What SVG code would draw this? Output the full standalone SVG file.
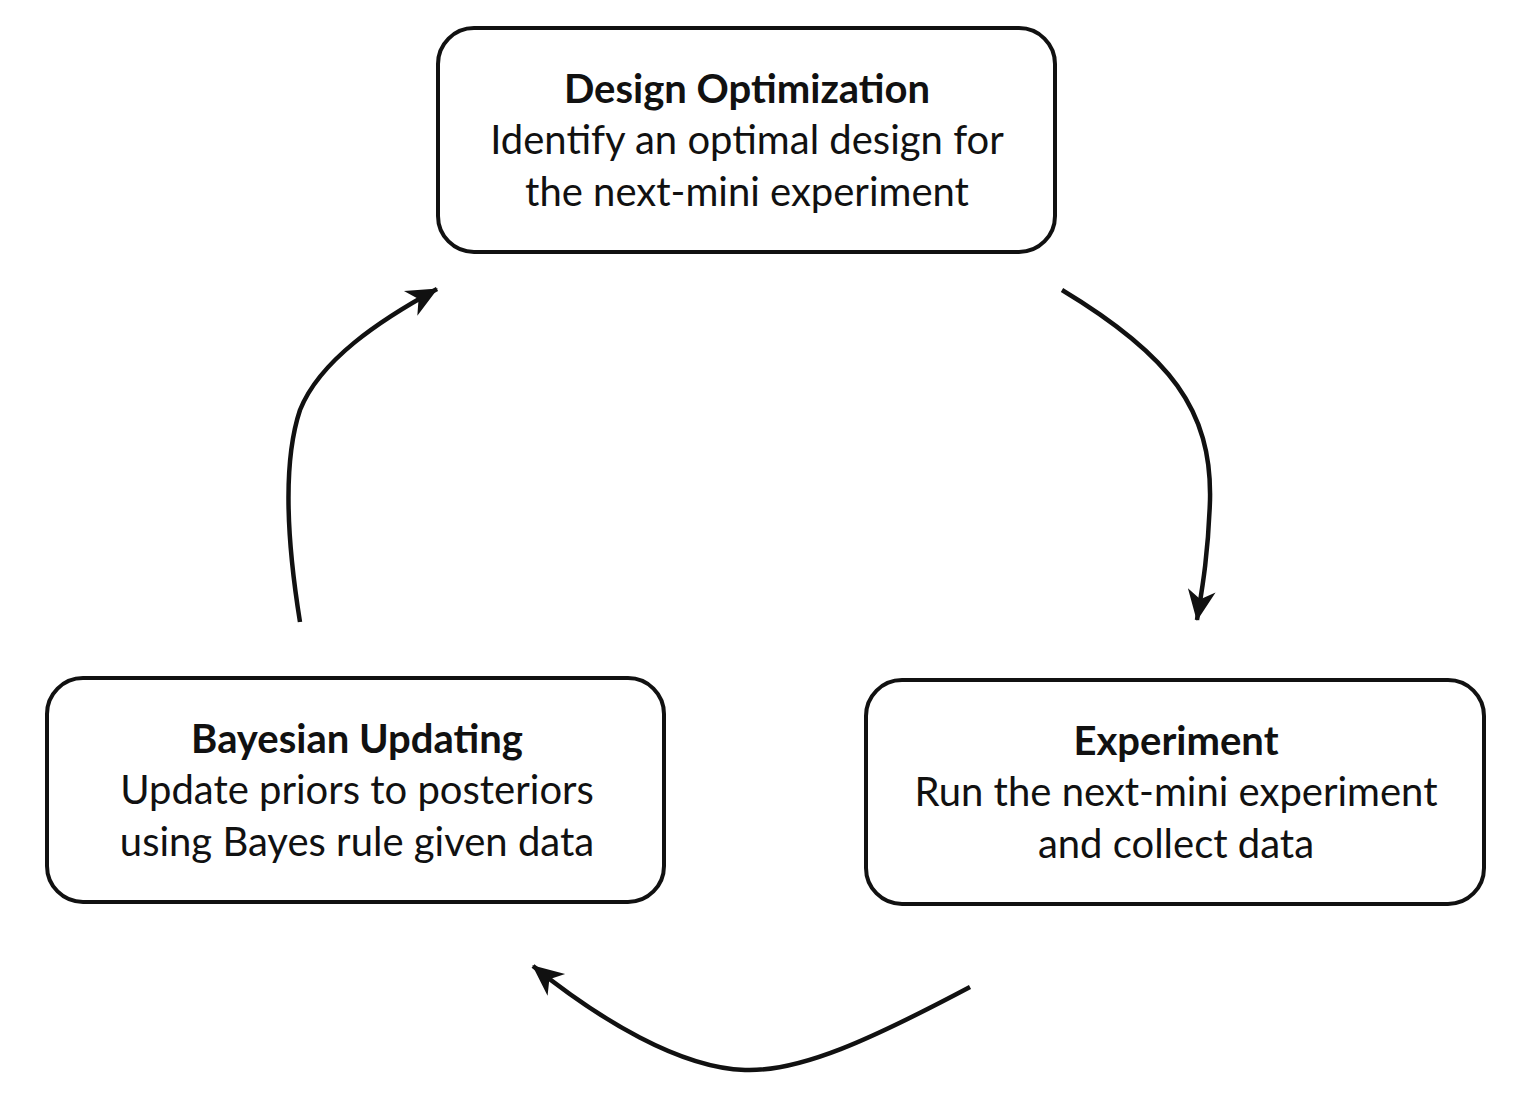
<svg xmlns="http://www.w3.org/2000/svg" width="1526" height="1096" viewBox="0 0 1526 1096">
<style>
.box{fill:#fff;stroke:#111;stroke-width:4}
.t{font-family:"Lato","Open Sans","Liberation Sans",sans-serif;font-size:40px;fill:#111;text-anchor:middle}
.b{font-weight:bold}
.c{fill:none;stroke:#111;stroke-width:4.5}
</style>
<defs>
<marker id="ah" viewBox="-32 -16 34 32" refX="0" refY="0" markerWidth="34" markerHeight="32" orient="auto" markerUnits="userSpaceOnUse">
<path d="M1,0 L-30,-14 L-21,0 L-30,14 Z" fill="#111"/>
</marker>
</defs>
<rect width="1526" height="1096" fill="#fff"/>
<g id="design">
<rect class="box" x="438" y="28" width="617" height="224" rx="36"/>
<text class="t b" x="747" y="103">Design Optimization</text>
<text class="t" x="747" y="154">Identify an optimal design for</text>
<text class="t" x="747" y="206">the next-mini experiment</text>
</g>
<g id="bayes">
<rect class="box" x="47" y="678" width="617" height="224" rx="36"/>
<text class="t b" x="357" y="753">Bayesian Updating</text>
<text class="t" x="357" y="804">Update priors to posteriors</text>
<text class="t" x="357" y="856">using Bayes rule given data</text>
</g>
<g id="experiment">
<rect class="box" x="866" y="680" width="618" height="224" rx="36"/>
<text class="t b" x="1176" y="755">Experiment</text>
<text class="t" x="1176" y="806">Run the next-mini experiment</text>
<text class="t" x="1176" y="858">and collect data</text>
</g>
<g id="connectors">
<path class="c" d="M1062,290 C1170,355 1212,410 1210,500 C1208,560 1201,595 1197,620" marker-end="url(#ah)"/>
<path class="c" d="M970,987 C870,1040 800,1072 745,1070 C680,1068 600,1020 533,966" marker-end="url(#ah)"/>
<path class="c" d="M300,622 C290,560 280,470 300,410 C320,360 380,320 437,289" marker-end="url(#ah)"/>
</g>
</svg>
